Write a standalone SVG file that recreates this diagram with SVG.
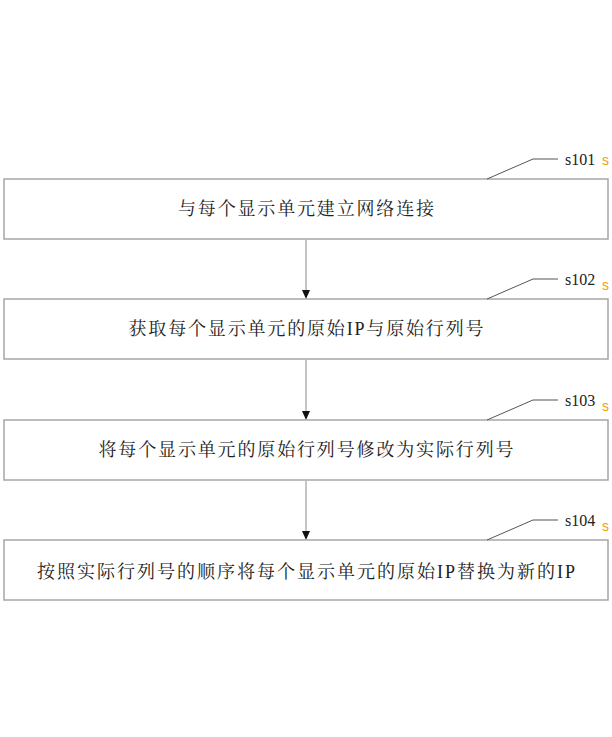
<svg xmlns="http://www.w3.org/2000/svg" width="612" height="737" viewBox="0 0 612 737">
<defs>
<style>
.box{fill:#fff;stroke:#a6a6a6;stroke-width:1.5}
.t{font-family:"Liberation Serif","Noto Serif CJK SC","Noto Sans CJK SC",serif;font-size:18px;fill:#222;text-anchor:middle}
.lab{font-family:"Liberation Serif",serif;font-size:16px;fill:#222}
.os{font-family:"Liberation Sans",sans-serif;font-size:14px;fill:#f5a000}
.lead{fill:none;stroke:#555;stroke-width:1}
.conn{stroke:#b0b0b0;stroke-width:1.5}
.ah{fill:#111}
</style>
</defs>
<rect width="612" height="737" fill="#fff"/>
<g id="connectors">
<line class="conn" x1="306" y1="240" x2="306" y2="290"/>
<path class="ah" d="M302,290 L310,290 L306,299 Z"/>
<line class="conn" x1="306" y1="360" x2="306" y2="411"/>
<path class="ah" d="M302,411 L310,411 L306,420 Z"/>
<line class="conn" x1="306" y1="481" x2="306" y2="531"/>
<path class="ah" d="M302,531 L310,531 L306,540 Z"/>
</g>
<g id="s101">
<rect class="box" x="4" y="179" width="604" height="60"/>
<text class="t" x="306" y="215" textLength="256" lengthAdjust="spacing">与每个显示单元建立网络连接</text>
<path class="lead" d="M487,179 L533,159 L558,159"/>
<text class="lab" x="565" y="165">s101</text>
<text class="os" x="602" y="165">s</text>
</g>
<g id="s102">
<rect class="box" x="4" y="299" width="604" height="60"/>
<text class="t" x="306" y="335" textLength="355" lengthAdjust="spacing">获取每个显示单元的原始IP与原始行列号</text>
<path class="lead" d="M487,299 L533,279 L558,279"/>
<text class="lab" x="565" y="285">s102</text>
<text class="os" x="602" y="290">s</text>
</g>
<g id="s103">
<rect class="box" x="4" y="420" width="604" height="60"/>
<text class="t" x="306" y="456" textLength="415" lengthAdjust="spacing">将每个显示单元的原始行列号修改为实际行列号</text>
<path class="lead" d="M487,420 L533,400 L558,400"/>
<text class="lab" x="565" y="406">s103</text>
<text class="os" x="602" y="411">s</text>
</g>
<g id="s104">
<rect class="box" x="4" y="540" width="604" height="60"/>
<text class="t" x="306" y="578" textLength="538" lengthAdjust="spacing">按照实际行列号的顺序将每个显示单元的原始IP替换为新的IP</text>
<path class="lead" d="M487,540 L533,520 L558,520"/>
<text class="lab" x="565" y="526">s104</text>
<text class="os" x="602" y="531">s</text>
</g>
</svg>
